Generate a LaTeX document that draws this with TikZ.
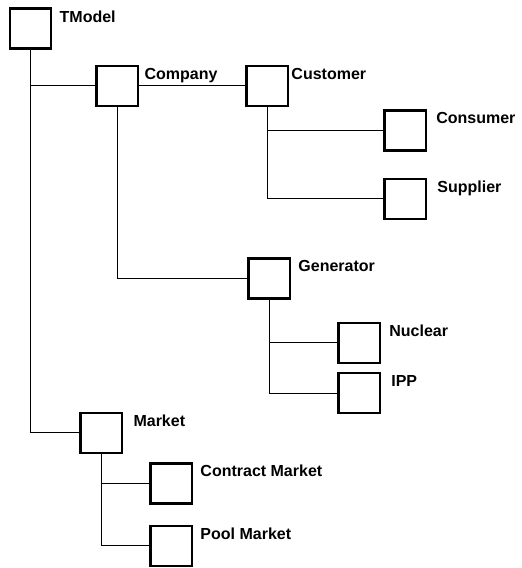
\documentclass[tikz,border=0pt]{standalone}
\usepackage{fontspec}
\setmainfont{Liberation Sans}
\usetikzlibrary{positioning}

\begin{document}
\begin{tikzpicture}[
    node distance=20pt and 40pt,
    every node/.style={font=\fontsize{16}{19}\selectfont\bfseries},
    box/.style={rectangle, draw, line width=2.4pt, minimum width=41.5pt, minimum height=40pt, inner sep=0pt},
    tag/.style={anchor=north west, inner sep=0pt, yshift=-3pt},
    link/.style={line width=1.1pt}
]
\useasboundingbox (0,0) rectangle (522pt,-568pt);
% class boxes
\node[box] (tmodel) at (30.5pt,-28.5pt) {};
\node[box, below right=15pt and 43pt of tmodel] (company) {};
\node[box, right=106pt of company] (customer) {};
\node[box, below right=2pt and 94pt of customer] (consumer) {};
\node[box, below=26pt of consumer] (supplier) {};
\node[box, below right=150pt and 108pt of company] (generator) {};
\node[box, below right=22pt and 46pt of generator] (nuclear) {};
\node[box, below=8pt of nuclear] (ipp) {};
\node[box, below right=362pt and 27pt of tmodel] (market) {};
\node[box, below right=8pt and 26pt of market] (contract) {};
\node[box, below=20pt of contract] (pool) {};
% class names
\node[right=7pt of tmodel.north east, tag] (tmodel_tag) {TModel};
\node[right=5pt of company.north east, tag] (company_tag) {Company};
\node[right=2pt of customer.north east, tag] (customer_tag) {Customer};
\node[right=9pt of consumer.north east, tag] (consumer_tag) {Consumer};
\node[right=10pt of supplier.north east, tag] (supplier_tag) {Supplier};
\node[right=7pt of generator.north east, tag] (generator_tag) {Generator};
\node[right=8pt of nuclear.north east, tag] (nuclear_tag) {Nuclear};
\node[right=10pt of ipp.north east, tag] (ipp_tag) {IPP};
\node[right=10pt of market.north east, tag] (market_tag) {Market};
\node[right=7pt of contract.north east, tag] (contract_tag) {Contract Market};
\node[right=7pt of pool.north east, tag] (pool_tag) {Pool Market};
% tree links
\draw[link] (tmodel.south) |- (company.west);
\draw[link] (tmodel.south) |- (market.west);
\draw[link] (company.east) -- (customer.west);
\draw[link] (company.south) |- (generator.west);
\draw[link] (customer.south) |- (consumer.west);
\draw[link] (customer.south) |- (supplier.west);
\draw[link] (generator.south) |- (nuclear.west);
\draw[link] (generator.south) |- (ipp.west);
\draw[link] (market.south) |- (contract.west);
\draw[link] (market.south) |- (pool.west);
\end{tikzpicture}
\end{document}
